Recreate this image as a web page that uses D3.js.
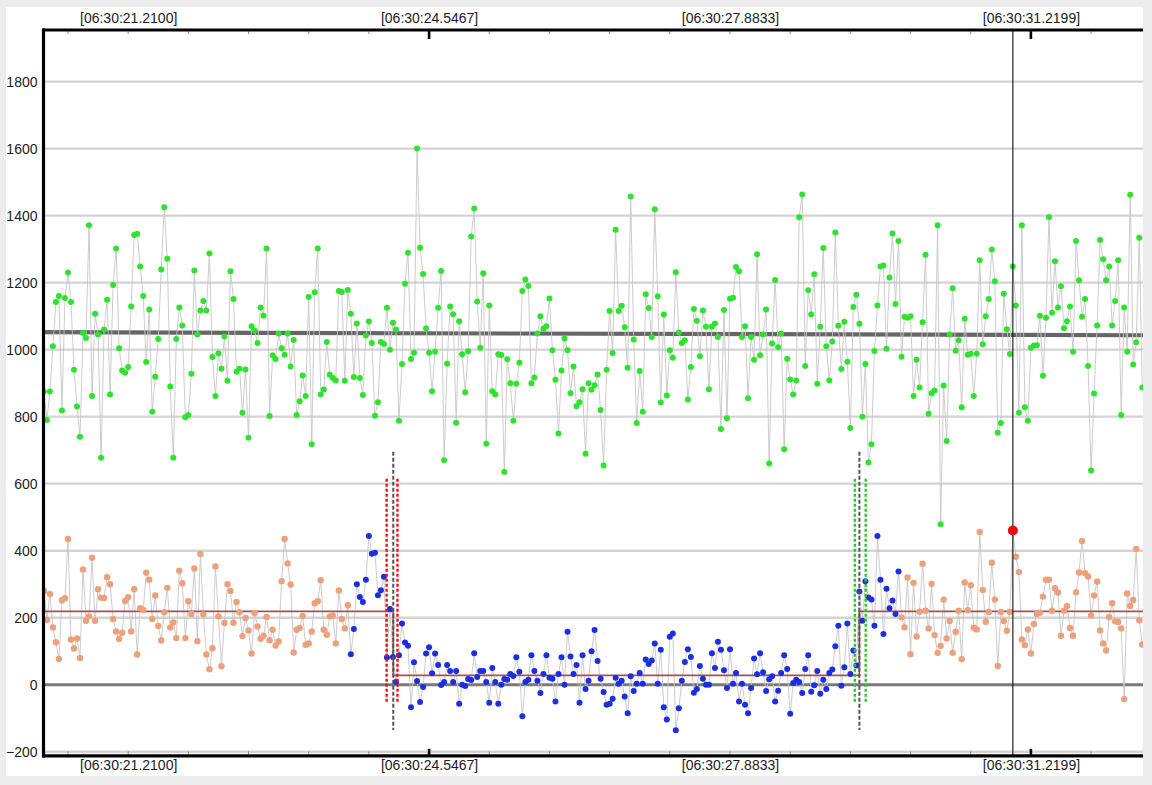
<!DOCTYPE html>
<html>
<head>
<meta charset="utf-8">
<script src="https://cdn.jsdelivr.net/npm/d3@7"></script>
<style>
  html, body { margin: 0; padding: 0; background: #ececec; }
  svg { display: block; font-family: "Liberation Sans", Arial, Helvetica, sans-serif; }
</style>
</head>
<body>
<div id="chart-area"></div>
<script>
// samples are 29.97 fps video frames, frame 0 sits on the 06:30:21.2100 tick
const frameDt = 1001 / 30000;
const refTime = 21.2100;      // seconds after 06:30:00
const firstFrame = -28;

const tickTimes = [21.2100, 24.5467, 27.8833, 31.2199];
const tickLabels = ["[06:30:21.2100]", "[06:30:24.5467]", "[06:30:27.8833]", "[06:30:31.2199]"];
const boldTickTimes = [24.5467, 31.2199];
const yTicks = [-200, 0, 200, 400, 600, 800, 1000, 1200, 1400, 1600, 1800];

// upper series, one value per frame
const greenValues = [
  875, 790, 875, 1010, 1142, 1160, 818, 1154, 1230, 1142,
  940, 830, 740, 1050, 1035, 1371, 862, 1107, 1045, 677,
  1060, 1149, 866, 1193, 1302, 1004, 938, 931, 948, 1129,
  1342, 1346, 1248, 1160, 963, 1120, 815, 919, 1032, 1239,
  1425, 1271, 890, 677, 1032, 1126, 1072, 798, 805, 928,
  1236, 1045, 1117, 1145, 1117, 1287, 978, 862, 989, 943,
  1039, 907, 1234, 1151, 934, 943, 812, 941, 737, 1070,
  1057, 1020, 1126, 1101, 1302, 802, 983, 972, 1048, 1004,
  985, 1048, 950, 1029, 805, 846, 923, 862, 1157, 718,
  1171, 1302, 866, 881,
  1023, 925, 915, 908, 1175, 1172, 907, 1178, 1107, 918,
  1078, 915, 865, 1042, 1084, 1020, 803, 843, 1023, 1017,
  1125, 1000, 1080, 1060, 788, 957, 1197, 1289, 972, 991,
  1600, 1304, 1226, 1063, 991, 876, 994, 1125, 1235, 670,
  958, 1129, 1106, 782, 1085, 986, 873, 995, 1338, 1421,
  1144, 1006, 1228, 719, 1132, 876, 866, 986, 984, 635,
  971, 900, 788, 898, 961, 1175, 1209, 1190, 900, 917,
  1048, 1100, 1062, 1070, 1153, 998, 910, 750, 938, 1033,
  998, 870, 950, 831, 843, 882, 689, 900,
  880, 894, 926, 820, 654, 940, 1115, 990, 1358, 1115,
  1131, 1067, 946, 1457, 1030, 781, 936, 815, 1165, 1124,
  1038, 1419, 1159, 842, 1105, 863, 998, 976, 1231, 1051,
  1020, 1028, 851, 948, 1121, 1086, 980, 1117, 1068, 882,
  1068, 1078, 1038, 763, 1118, 795, 1152, 1155, 1247, 1234,
  1038, 1070, 855, 1038, 970, 1285, 983, 1045, 1120, 660,
  1018, 1208, 1007, 1048, 703, 973, 911, 866, 908, 1395,
  1463, 951, 1177, 1105, 1225, 898, 1068, 1303, 1010, 908,
  1024, 1350, 1071, 942, 1083, 964, 766, 1127, 1164, 1077,
  800, 957, 663, 718, 996,
  1132, 1248, 1251, 1003, 1215, 1347, 1136, 1324, 979, 1098,
  1095, 1100, 862, 970, 887, 1082, 1283, 809, 870, 878,
  1371, 479, 893, 727, 1045, 1183, 997, 1028, 828, 1092,
  985, 988, 862, 988, 1267, 1016, 1100, 1151, 1299, 1204,
  752, 781, 1167, 1061, 987, 1248, 1132, 812, 1371, 828,
  788, 1006, 1012, 1013, 1101, 922, 1095, 1396, 1110, 1264,
  1126, 1189, 1064, 1085, 1129, 994, 1324, 1207, 1098, 1151,
  951, 639, 869, 1072, 1327, 1270, 1207, 1248, 1072, 1145,
  1267, 805, 1126, 994, 1462, 956, 1022, 1334, 887
];

// lower series, one value per frame
const lowerValues = [
  280, 193, 271, 171, 127, 77, 252, 258, 435, 135,
  108, 138, 80, 344, 191, 204, 379, 191, 285, 260,
  259, 321, 300, 196, 159, 137, 155, 250, 261, 159,
  285, 90, 228, 223, 334, 313, 196, 266, 175, 132,
  216, 289, 171, 186, 139, 340, 303, 139, 249, 211,
  347, 130, 390, 210, 90, 46, 109, 353, 204, 55,
  184, 300, 280, 185, 247, 216, 145, 199, 162, 93,
  214, 174, 137, 146, 202, 133, 164, 117, 129, 309,
  435, 362, 299, 96, 164, 169, 205, 119, 123, 159,
  243, 249, 312, 164, 149, 204, 207, 123, 281, 196,
  168, 237, 91, 166, 300, 262, 247, 313, 444, 391,
  394, 267, 282, 322, 81, 226, 83, 8, 88, 183,
  126, 116, -67, 67, 11, -52, -7, 93, 112, 34,
  93, 59, -1, 8, 59, 41, 8, 41, -57, 0,
  -4, 17, 14, 94, 23, 41, 41, 8, -54, 50,
  8, -57, 0, 17, 15, 32, 26, 82, 39, -94,
  8, 15, 88, 41, 12, -25, 32, 88, 21, 18,
  -50, 32, 82, 0, 158, 84, 32, 59, -54, 88,
  -13, 12, 100, 163, 71, 18, -22, -60, -57, -42,
  21, 3, 12, -35, -85, 25, -19, 3, 35, 3,
  75, 62, 72, 123, 3, 104, -67, -104, 143, 153,
  -136, -70, 12, 68, 106, 83, -24, -13, 56, 18,
  0, 0, 94, 50, 128, 104, 43, -10, 106, 3,
  35, -50, 3, -60, -85, -10, 78, 31, 94, 37,
  -19, 16, 25, -50, -18, 35, 88, 47, -87, 5,
  15, 8, -25, 47, 88, -21, -2, 41, -27, 15,
  -13, 35, 45, 115, 176, -3, 52, 183, 32, 102,
  57, 278, 191, 309, 260, 254, 176, 444, 313, 151,
  286, 228, 251, 211, 338, 201, 171, 320, 91, 304,
  144, 218, 361, 221, 168, 301, 148, 95, 116, 254,
  138, 190, 95, 158, 221, 76, 305, 222, 297, 170,
  165, 456, 283, 188, 217, 364, 254, 56, 217, 190,
  161, 217, 460, 382, 336, 135, 118, 165, 93, 181,
  211, 215, 263, 313, 313, 221, 288, 275, 146, 221,
  235, 169, 146, 276, 335, 429, 333, 323, 207, 266,
  308, 162, 123, 102, 202, 243, 189, 187, 168, -43,
  272, 235, 253, 405, 192, 120
];

const blueFrames = [74, 256];          // lower-series frames in the second phase
const levelFrames = [88.1, 243.0];     // where the lower mean changes
const levelValues = [219, 28, 219];
const redMarkFrames = [85.9, 89.5];
const greenMarkFrames = [241.5, 245.1];
const changeSpan = [-135, 695];
const markSpan = [-55, 615];
const trendValues = [1052, 1043];      // upper series trend, first to last visible frame
const cursorFrame = 294;
const viewFrames = [-28.3, 337.25];

const frameTime = f => refTime + f * frameDt;

const W = 1152, H = 785;
const plot = { left: 43.5, right: 1143, top: 30, bottom: 755.8 };

const svg = d3.select("#chart-area")
  .append("svg")
  .attr("width", W)
  .attr("height", H);

svg.append("rect")
  .attr("x", 6).attr("y", 7)
  .attr("width", 1137).attr("height", 769)
  .attr("fill", "#fff");

const x = d3.scaleLinear()
  .domain(viewFrames.map(frameTime))
  .range([43, 1143]);

const y = d3.scaleLinear()
  .domain([-215.8, 1957])
  .range([757, 29]);

svg.append("clipPath").attr("id", "plot-clip")
  .append("rect")
  .attr("x", 43).attr("y", 29)
  .attr("width", 1100).attr("height", 728);

const g = svg.append("g").attr("clip-path", "url(#plot-clip)");

// grid
g.selectAll(".grid")
  .data(yTicks.filter(d => d !== 0))
  .enter()
  .append("line")
  .attr("x1", 43).attr("x2", 1143)
  .attr("y1", d => y(d)).attr("y2", d => y(d))
  .attr("stroke", "#d3d3d3")
  .attr("stroke-width", 2.4);

g.append("line")
  .attr("x1", 43).attr("x2", 1143)
  .attr("y1", y(0)).attr("y2", y(0))
  .attr("stroke", "#797979")
  .attr("stroke-width", 3);

// trend of the upper series
g.append("line")
  .attr("x1", x(frameTime(viewFrames[0]))).attr("x2", x(frameTime(viewFrames[1])))
  .attr("y1", y(trendValues[0])).attr("y2", y(trendValues[1]))
  .attr("stroke", "#666")
  .attr("stroke-width", 4.2);

const green = greenValues.map((v, i) => ({ t: frameTime(firstFrame + i), f: firstFrame + i, v }));
const lower = lowerValues.map((v, i) => ({ t: frameTime(firstFrame + i), f: firstFrame + i, v }));

const line = d3.line().x(d => x(d.t)).y(d => y(d.v));

g.append("path")
  .datum(green)
  .attr("d", line)
  .attr("fill", "none")
  .attr("stroke", "#c6c6c6")
  .attr("stroke-width", 0.9);

g.append("path")
  .datum(lower)
  .attr("d", line)
  .attr("fill", "none")
  .attr("stroke", "#c6c6c6")
  .attr("stroke-width", 0.9);

// lower mean levels
const levels = [
  { t: frameTime(viewFrames[0]), v: levelValues[0] },
  { t: frameTime(levelFrames[0]), v: levelValues[1] },
  { t: frameTime(levelFrames[1]), v: levelValues[2] },
  { t: frameTime(viewFrames[1]), v: levelValues[2] }
];
g.append("path")
  .datum(levels)
  .attr("d", line.curve(d3.curveStepAfter))
  .attr("fill", "none")
  .attr("stroke", "#9a5750")
  .attr("stroke-width", 1.7);
line.curve(d3.curveLinear);

g.selectAll(".gdot")
  .data(green)
  .enter()
  .append("circle")
  .attr("cx", d => x(d.t))
  .attr("cy", d => y(d.v))
  .attr("r", 3)
  .attr("fill", "#2de32d");

const isBlue = d => d.f >= blueFrames[0] && d.f <= blueFrames[1];

g.selectAll(".ldot")
  .data(lower)
  .enter()
  .append("circle")
  .attr("cx", d => x(d.t))
  .attr("cy", d => y(d.v))
  .attr("r", d => isBlue(d) ? 3 : 3.2)
  .attr("fill", d => isBlue(d) ? "#1b2fe0" : "#eca07c");

// change markers
g.selectAll(".change")
  .data(levelFrames)
  .enter()
  .append("line")
  .attr("x1", d => x(frameTime(d))).attr("x2", d => x(frameTime(d)))
  .attr("y1", y(changeSpan[1])).attr("y2", y(changeSpan[0]))
  .attr("stroke", "#555")
  .attr("stroke-width", 2)
  .attr("stroke-dasharray", "4,2");

const marks = redMarkFrames.map(f => ({ f, c: "#e5141c" }))
  .concat(greenMarkFrames.map(f => ({ f, c: "#22cc22" })));

g.selectAll(".mark")
  .data(marks)
  .enter()
  .append("line")
  .attr("x1", d => x(frameTime(d.f))).attr("x2", d => x(frameTime(d.f)))
  .attr("y1", y(markSpan[1])).attr("y2", y(markSpan[0]))
  .attr("stroke", d => d.c)
  .attr("stroke-width", 2.4)
  .attr("stroke-dasharray", "3,2");

// cursor
const cursor = lower.find(d => d.f === cursorFrame);
svg.append("line")
  .attr("x1", x(cursor.t)).attr("x2", x(cursor.t))
  .attr("y1", plot.top).attr("y2", plot.bottom)
  .attr("stroke", "#111")
  .attr("stroke-width", 1.1);

svg.append("circle")
  .attr("cx", x(cursor.t))
  .attr("cy", y(cursor.v))
  .attr("r", 5)
  .attr("fill", "#ee0a0a");

// ticks every 20 frames, top and bottom
const minorTimes = d3.range(-20, 340, 20).map(frameTime);

svg.selectAll(".tick-top")
  .data(minorTimes)
  .enter()
  .append("line")
  .attr("x1", d => x(d)).attr("x2", d => x(d))
  .attr("y1", plot.top + 1.5).attr("y2", plot.top + 4)
  .attr("stroke", "#888")
  .attr("stroke-width", 1);

svg.selectAll(".tick-bottom")
  .data(minorTimes)
  .enter()
  .append("line")
  .attr("x1", d => x(d)).attr("x2", d => x(d))
  .attr("y1", plot.bottom - 1.5).attr("y2", plot.bottom - 4.5)
  .attr("stroke", "#888")
  .attr("stroke-width", 1);

const boldTicks = svg.append("g");
boldTickTimes.forEach(t => {
  boldTicks.append("line")
    .attr("x1", x(t)).attr("x2", x(t))
    .attr("y1", plot.top).attr("y2", plot.top + 9)
    .attr("stroke", "#000").attr("stroke-width", 2.6);
  boldTicks.append("line")
    .attr("x1", x(t)).attr("x2", x(t))
    .attr("y1", plot.bottom).attr("y2", plot.bottom - 7)
    .attr("stroke", "#000").attr("stroke-width", 2.6);
});

// frame
svg.append("line")
  .attr("x1", 42).attr("x2", 1143)
  .attr("y1", plot.top).attr("y2", plot.top)
  .attr("stroke", "#000").attr("stroke-width", 3.2);

svg.append("line")
  .attr("x1", 42).attr("x2", 1143)
  .attr("y1", plot.bottom).attr("y2", plot.bottom)
  .attr("stroke", "#000").attr("stroke-width", 3.2);

svg.append("line")
  .attr("x1", plot.left).attr("x2", plot.left)
  .attr("y1", 28.4).attr("y2", 757.4)
  .attr("stroke", "#000").attr("stroke-width", 3.2);

// labels
const xTop = d3.axisTop(x)
  .tickValues(tickTimes)
  .tickSize(0)
  .tickPadding(6.5)
  .tickFormat((d, i) => tickLabels[i]);

const xBottom = d3.axisBottom(x)
  .tickValues(tickTimes)
  .tickSize(0)
  .tickPadding(2.5)
  .tickFormat((d, i) => tickLabels[i]);

const yAxis = d3.axisLeft(y)
  .tickValues(yTicks)
  .tickSize(0)
  .tickPadding(5.5)
  .tickFormat(d3.format("d"));

const styleAxis = sel => {
  sel.select(".domain").remove();
  sel.selectAll("text")
    .attr("font-family", "'Liberation Sans', Arial, Helvetica, sans-serif")
    .attr("font-size", "14px")
    .attr("fill", "#1c1c1c");
};

svg.append("g")
  .attr("transform", `translate(0, ${plot.top - 0.5})`)
  .call(xTop)
  .call(styleAxis);

svg.append("g")
  .attr("transform", `translate(0, ${plot.bottom + 1.5})`)
  .call(xBottom)
  .call(styleAxis);

svg.append("g")
  .attr("transform", "translate(43, 0)")
  .call(yAxis)
  .call(styleAxis);
</script>
</body>
</html>
